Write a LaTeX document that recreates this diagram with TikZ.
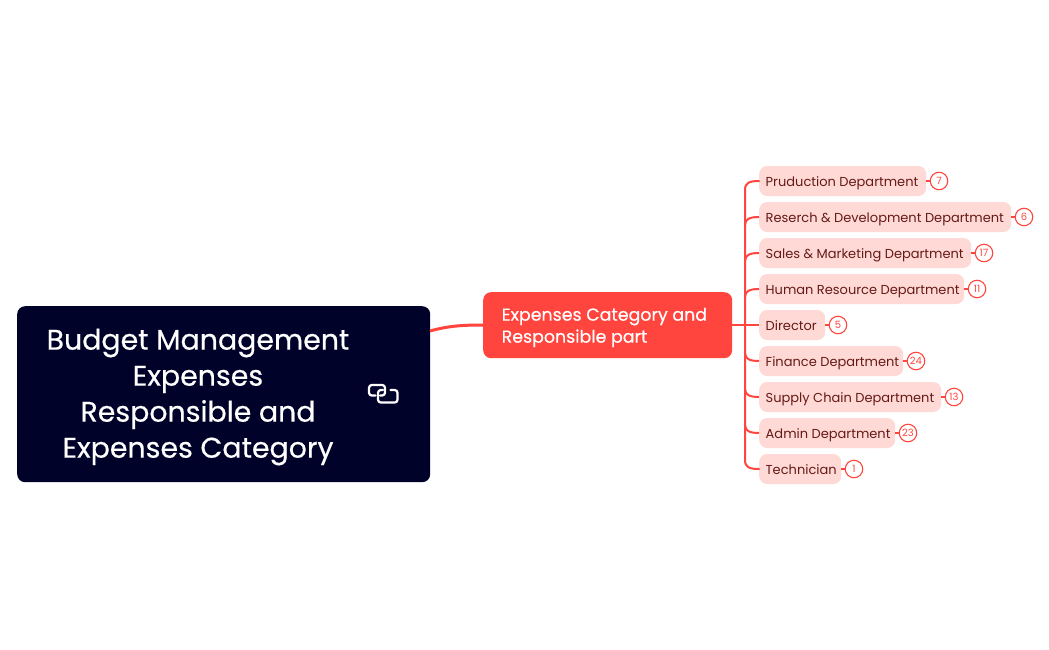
\documentclass[tikz,border=0pt]{standalone}
\usepackage{fontspec}
\setmainfont{Poppins}
\newfontfamily\medf[FakeBold=0.45]{Poppins}
\definecolor{navy}{HTML}{000229}
\definecolor{redm}{HTML}{FF453D}
\definecolor{pinkb}{HTML}{FFD9D6}
\definecolor{darkr}{HTML}{661A17}
\newcommand{\fs}[2]{\fontsize{#1}{#2}\selectfont}
\tikzset{x=1pt,y=-1pt,
  rootbox/.style={fill=navy,rounded corners=8pt,minimum width=413pt,minimum height=176pt,inner sep=0pt,anchor=north west},
  mainbox/.style={fill=redm,rounded corners=8pt,minimum width=249pt,minimum height=66pt,inner sep=0pt,anchor=north west},
  leaf/.style={fill=pinkb,rounded corners=8pt,minimum height=30pt,inner sep=0pt,anchor=west},
  numb/.style={circle,draw=redm,line width=1.1pt,fill=white,minimum size=17.5pt,inner sep=0pt,text=redm,font=\fs{10}{11}},
  conn/.style={draw=redm,line width=2pt},
  iconl/.style={draw=white,line width=2.2pt,rounded corners=2.8pt,line cap=round},
}
\begin{document}
\begin{tikzpicture}
\useasboundingbox[fill=white] (0,0) rectangle (1049,650);
\node[rootbox] (root) at (17,306) {};
\node[text=white,font=\medf\fs{28.4}{36},align=center,inner sep=0pt] (roottext) at (198,397) {Budget Management\\Expenses\\Responsible and\\Expenses Category};
\node[mainbox] (main) at (483,292) {};
\node[text=white,font=\medf\fs{17.4}{22},align=left,inner sep=0pt,anchor=west] (maintext) at (501.5,327.5) {Expenses Category and\\Responsible part};
\coordinate (rootout) at (430,331);
\coordinate (mainin) at (483,325);
\draw[redm,line width=3pt] (rootout) .. controls (448,326) and (462,325) .. (mainin);
\foreach \nm/\txt/\y/\r/\n in {
 a/Pruduction Department/181/926/7,
 b/Reserch \& Development Department/217/1011/6,
 c/Sales \& Marketing Department/253/971/17,
 d/Human Resource Department/289/964/11,
 e/Director/325/825/5,
 f/Finance Department/361/903/24,
 g/Supply Chain Department/397/941/13,
 h/Admin Department/433/895/23,
 i/Technician/469/841/1}{
  \pgfmathsetmacro{\w}{\r-759}
  \node[leaf,minimum width=\w pt] (\nm) at (759,\y) {};
  \node[anchor=base west,inner sep=0pt,text=darkr,font=\fs{13}{18}] (\nm t) at (765.5,\y+5.5) {\txt};
  \node[numb] (\nm n) at (\r+13,\y) {\n};
  \draw[conn] (\nm.east) -- (\nm n.west);
}
\draw[conn] (main.east |- mainin) -- (e.west);
\draw[conn,line cap=round] (a.west) .. controls (749,181) and (745,183) .. (745,190) -- (745,460) .. controls (745,467) and (749,469) .. (i.west);
\foreach \nm/\yy in {b/225,c/261,d/297}{
  \draw[conn] (\nm.west) .. controls (750,\yy-8) and (745,\yy-6) .. (745,\yy);
}
\foreach \nm/\yy in {f/353,g/389,h/425}{
  \draw[conn] (\nm.west) .. controls (750,\yy+8) and (745,\yy+6) .. (745,\yy);
}
% link icon
\draw[iconl] (375.5,395.5) -- (369,395.5) -- (369,385) -- (385,385) -- (385,395.5) -- (380,395.5);
\draw[iconl] (390.5,390) -- (397.5,390) -- (397.5,402.5) -- (378,402.5) -- (378,390) -- (383,390);
\end{tikzpicture}
\end{document}
